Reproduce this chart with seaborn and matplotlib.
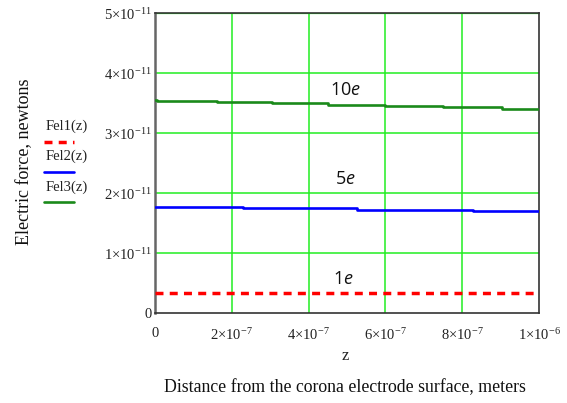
import matplotlib
matplotlib.use("Agg")
import matplotlib.pyplot as plt
from matplotlib.lines import Line2D
import numpy as np
import pandas as pd
import seaborn as sns

# ---- data ----
z_fel1 = [0.0, 1.0e-6]
fel1 = [0.34e-11, 0.34e-11]

z_fel2 = [0.0, 0.23e-6, 0.525e-6, 0.827e-6, 1.0e-6]
fel2 = [1.773e-11, 1.745e-11, 1.722e-11, 1.706e-11, 1.706e-11]

z_fel3 = [0.0, 0.004e-6, 0.161e-6, 0.304e-6, 0.451e-6, 0.599e-6, 0.751e-6, 0.904e-6, 1.0e-6]
fel3 = [3.550e-11, 3.528e-11, 3.512e-11, 3.495e-11, 3.473e-11, 3.450e-11, 3.428e-11, 3.406e-11, 3.406e-11]

series_names = ["Fel1(z)", "Fel2(z)", "Fel3(z)"]
series_colors = ["#ff0000", "#0000ff", "#1a8a1a"]

x_ticks = [0, 2e-7, 4e-7, 6e-7, 8e-7, 1e-6]
x_tick_labels = ["0", r"$2{\times}10^{-7}$", r"$4{\times}10^{-7}$", r"$6{\times}10^{-7}$",
                 r"$8{\times}10^{-7}$", r"$1{\times}10^{-6}$"]
y_ticks = [0, 1e-11, 2e-11, 3e-11, 4e-11, 5e-11]
y_tick_labels = ["0", r"$1{\times}10^{-11}$", r"$2{\times}10^{-11}$", r"$3{\times}10^{-11}$",
                 r"$4{\times}10^{-11}$", r"$5{\times}10^{-11}$"]

annot_text = ["10$e$", "5$e$", "1$e$"]
annot_x = [0.495e-6, 0.495e-6, 0.490e-6]
annot_y = [3.72e-11, 2.24e-11, 0.57e-11]

# ---- style ----
sns.set_theme(style="white")
plt.rcParams["font.family"] = ["Liberation Serif", "DejaVu Serif"]
plt.rcParams["mathtext.fontset"] = "custom"
plt.rcParams["mathtext.rm"] = "Liberation Serif"
plt.rcParams["mathtext.it"] = "Open Sans:italic"
plt.rcParams["mathtext.fallback"] = "stix"

df = pd.concat([
    pd.DataFrame({"z": z_fel1, "F": fel1, "series": series_names[0]}),
    pd.DataFrame({"z": z_fel2, "F": fel2, "series": series_names[1]}),
    pd.DataFrame({"z": z_fel3, "F": fel3, "series": series_names[2]}),
], ignore_index=True)

fig = plt.figure(figsize=(5.67, 4.03), dpi=100)
W, H = 567, 403
ax = fig.add_axes([155 / W, 1 - 313 / H, (539 - 155) / W, (313 - 13) / H])

# grid
for xt in x_ticks[1:-1]:
    ax.axvline(xt, color="#22ee22", lw=1.1, zorder=1)
for yt in y_ticks[1:]:
    ax.axhline(yt, color="#22ee22", lw=1.6 if yt == y_ticks[-1] else 1.1, zorder=1)

for name, col in zip(series_names, series_colors):
    sub = df[df["series"] == name]
    sns.lineplot(data=sub, x="z", y="F", ax=ax, color=col, drawstyle="steps-post",
                 lw=2.5 if name == "Fel1(z)" else 1.9,
                 linestyle=(0, (2.3, 1.8)) if name == "Fel1(z)" else "-",
                 estimator=None, legend=False, zorder=3)

ax.set_xlim(0, 1e-6)
ax.set_ylim(0, 5e-11)
ax.set_xticks(x_ticks)
ax.set_xticklabels(x_tick_labels)
ax.set_yticks(y_ticks)
ax.set_yticklabels(y_tick_labels)
ax.tick_params(axis="both", length=0, labelsize=10.5, colors="#222222")
ax.tick_params(axis="x", pad=10)
ax.tick_params(axis="y", pad=2)
for lab in ax.get_xticklabels():
    lab.set_horizontalalignment("center")
ax.set_xlabel("")
ax.set_ylabel("")
for s in ax.spines.values():
    s.set_visible(True)
    s.set_color("#333333")
    s.set_linewidth(1.2)
ax.spines["left"].set_color("#666666")
ax.spines["left"].set_linewidth(1.8)

for t, xv, yv in zip(annot_text, annot_x, annot_y):
    ax.text(xv, yv, t, family=["Open Sans", "DejaVu Sans"], fontsize=13,
            ha="center", va="center", color="#111111", zorder=4)

# axis titles
fig.text(345 / W, 1 - 356 / H, "z", fontsize=12, ha="center", va="center", color="#222222")
fig.text(345 / W, 1 - 388 / H, "Distance from the corona electrode surface, meters",
         fontsize=12.8, ha="center", va="center", color="#111111")
fig.text(25 / W, 1 - 162 / H, "Electric force, newtons", fontsize=13, rotation=90,
         ha="center", va="center", color="#111111")

# legend (Mathcad style: label above line sample)
leg_label_y = [126, 156, 187]
leg_line_y = [142, 172, 202]
for name, col, ty, ly in zip(series_names, series_colors, leg_label_y, leg_line_y):
    fig.text(46 / W, 1 - ty / H, name, fontsize=10.5, ha="left", va="center", color="#222222")
    fig.add_artist(Line2D([44 / W, 74 / W], [1 - ly / H, 1 - ly / H],
                          transform=fig.transFigure, color=col,
                          lw=2.5 if name == "Fel1(z)" else 1.9,
                          linestyle=(0, (2.3, 1.8)) if name == "Fel1(z)" else "-"))

fig.savefig("out.png", dpi=100)
